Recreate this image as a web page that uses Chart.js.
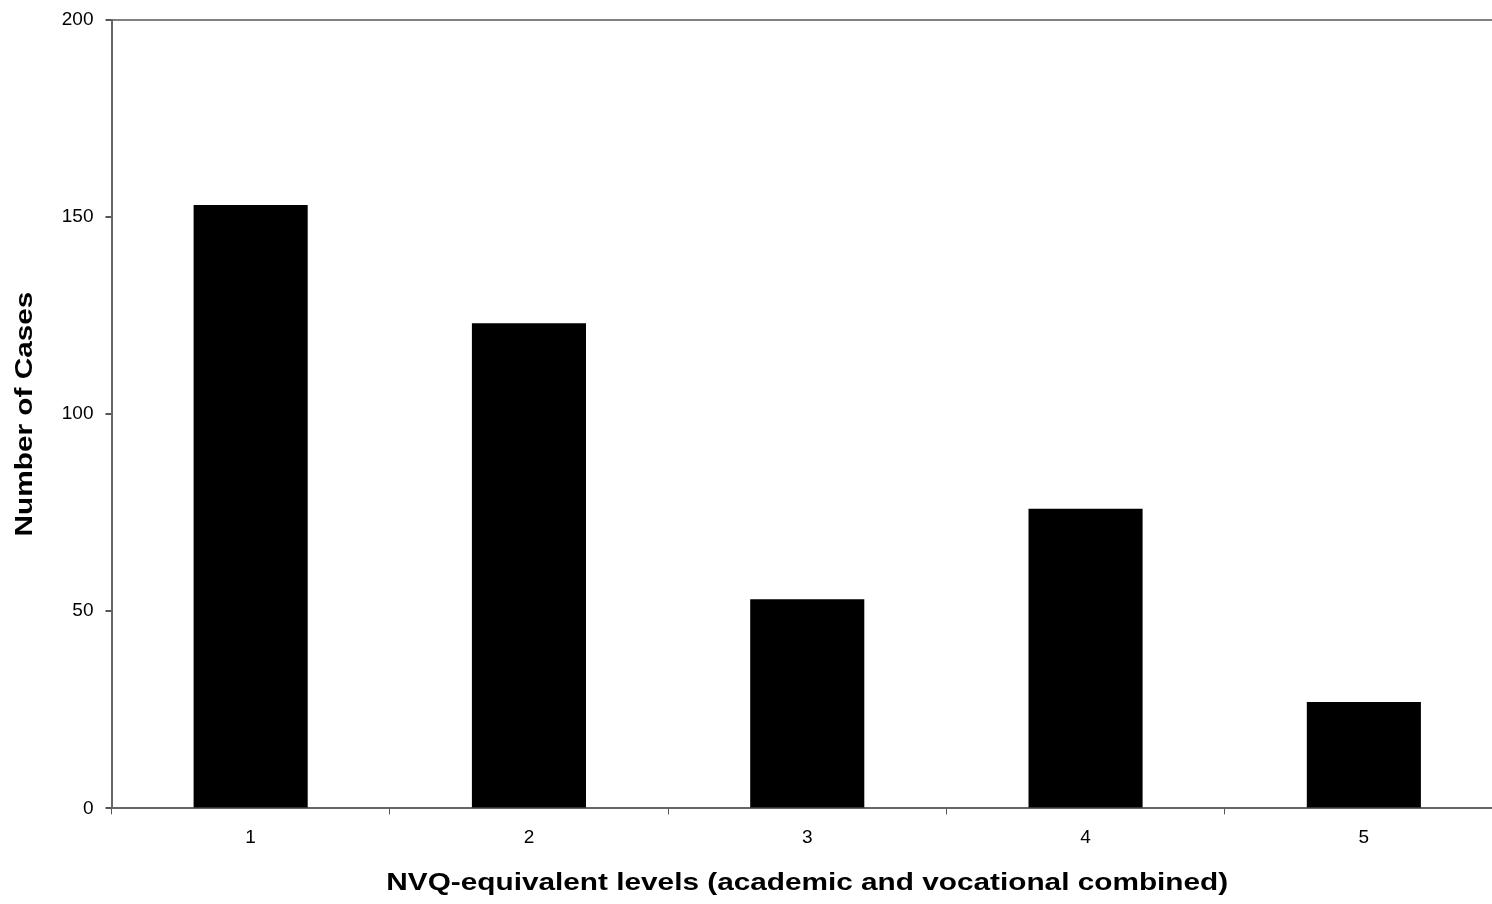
<!DOCTYPE html>
<html>
<head>
<meta charset="utf-8">
<script src="https://cdn.jsdelivr.net/npm/chart.js@4"></script>
<style>
  html, body { margin: 0; padding: 0; background: #fff; overflow: hidden; }
  #wrap { width: 1503px; height: 904px; }
</style>
</head>
<body>
<div id="wrap"><canvas id="chart" width="1503" height="904"></canvas></div>
<script>
// NVQ levels vs number of cases
const levels = ["1", "2", "3", "4", "5"];
const cases = [153, 123, 53, 76, 27];
const yTicks = [0, 50, 100, 150, 200];

const font = "'Liberation Sans', Arial, sans-serif";

// the axis titles in the original are stretched along the text direction
const wideTitles = {
  id: "wideTitles",
  beforeDraw(chart) {
    Object.values(chart.scales).forEach(scale => {
      if (scale._wide) return;
      const orig = scale.drawTitle;
      scale.drawTitle = function () {
        const ctx = this.ctx;
        const k = 1.24;
        ctx.save();
        if (this.isHorizontal()) {
          const cx = (this.left + this.right) / 2;
          ctx.translate(cx, 0);
          ctx.scale(k, 1);
          ctx.translate(-cx, 0);
        } else {
          const cy = (this.top + this.bottom) / 2;
          ctx.translate(0, cy);
          ctx.scale(1, k);
          ctx.translate(0, -cy);
        }
        orig.call(this);
        ctx.restore();
      };
      scale._wide = true;
    });
  }
};

new Chart(document.getElementById("chart"), {
  type: "bar",
  data: {
    labels: levels,
    datasets: [{
      label: "Cases",
      data: cases,
      backgroundColor: "#000",
      borderWidth: 0,
      categoryPercentage: 1,
      barPercentage: 0.41
    }]
  },
  options: {
    responsive: false,
    animation: false,
    layout: { padding: { top: 0, right: 0, bottom: 6, left: 11 } },
    plugins: { legend: { display: false }, tooltip: { enabled: false } },
    scales: {
      x: {
        offset: true,
        grid: {
          offset: true,
          drawOnChartArea: false,
          tickLength: 6,
          tickColor: "#555",
          lineWidth: 1
        },
        border: { color: "#666", width: 2 },
        ticks: { color: "#000", font: { family: font, size: 19 }, padding: 12 },
        title: {
          display: true,
          text: "NVQ-equivalent levels (academic and vocational combined)",
          color: "#000",
          font: { family: font, size: 24, weight: "bold" },
          padding: { top: 8, bottom: 0 }
        }
      },
      y: {
        min: 0,
        max: 200,
        afterBuildTicks: axis => { axis.ticks = yTicks.map(v => ({ value: v })); },
        grid: {
          color: c => (c.tick && c.tick.value === 200 ? "#808080" : "rgba(0,0,0,0)"),
          lineWidth: 2,
          tickLength: 6,
          tickColor: "#555"
        },
        border: { color: "#666", width: 2 },
        ticks: { color: "#000", font: { family: font, size: 19, lineHeight: 0.8 }, padding: 12 },
        title: {
          display: true,
          text: "Number of Cases",
          color: "#000",
          font: { family: font, size: 24, weight: "bold" },
          padding: { top: 0, bottom: 10 }
        }
      }
    }
  },
  plugins: [wideTitles]
});
</script>
</body>
</html>
